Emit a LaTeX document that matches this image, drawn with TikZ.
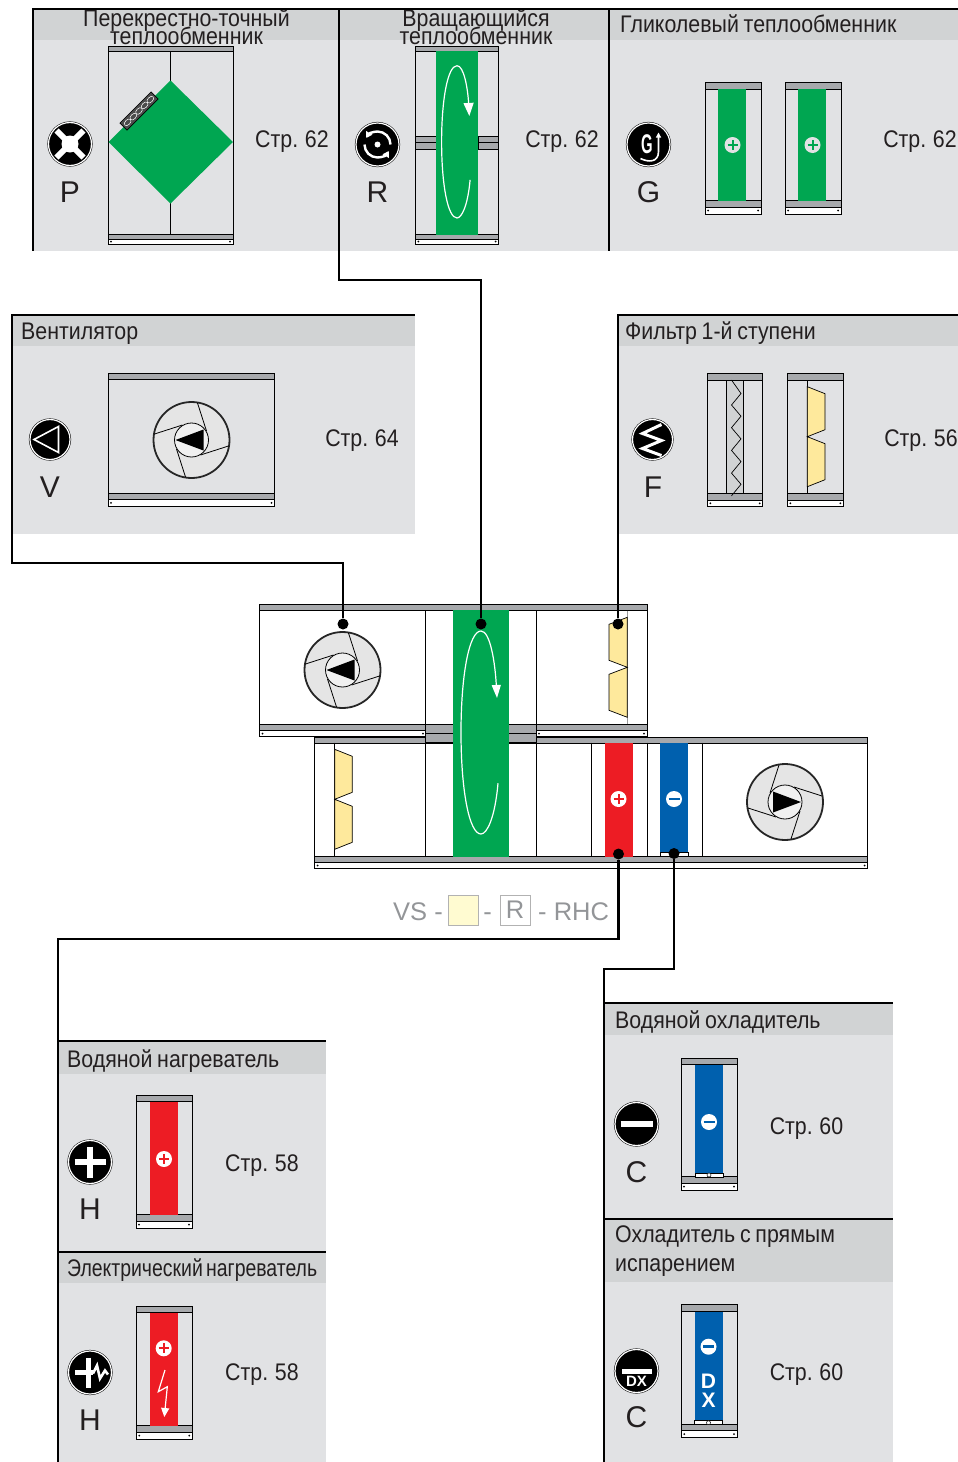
\documentclass[tikz,border=0pt]{standalone}
\usepackage{fontspec}
\setmainfont[FakeStretch=0.89,WordSpace=0.8]{Liberation Sans}
\newfontfamily\wideface{Liberation Sans}
\newfontfamily\tightface[FakeStretch=0.81,WordSpace=0.6]{Liberation Sans}
\newfontfamily\slimface[FakeStretch=0.55]{Liberation Sans}
\usetikzlibrary{arrows.meta}
\definecolor{panelgray}{HTML}{E1E2E4}
\definecolor{headgray}{HTML}{D1D3D4}
\definecolor{bargray}{HTML}{A7A9AC}
\definecolor{inkblack}{HTML}{231F20}
\definecolor{legendgray}{HTML}{939598}
\definecolor{wheelgreen}{HTML}{00A651}
\definecolor{heatred}{HTML}{ED1C24}
\definecolor{coolblue}{HTML}{0060AE}
\definecolor{filteryellow}{HTML}{FEE99C}
\definecolor{legendyellow}{HTML}{FFFBD1}
\newcommand{\titlefont}[1]{\fontsize{24}{#1}\selectfont\lineskiplimit -30pt\relax}
\newcommand{\casing}[6]{%
  \filldraw[fill=#6,draw=black,line width=.8] (#1,#2) rectangle (#3,#4);
  \filldraw[fill=bargray,draw=black,line width=.8] (#1,#2) rectangle (#3,{#2+#5});
  \filldraw[fill=bargray,draw=black,line width=.8] (#1,{#4-2*#5}) rectangle (#3,{#4-#5});
  \filldraw[fill=white,draw=black,line width=.8] (#1,{#4-#5}) rectangle (#3,#4);
  \fill[black] ({#1+3},{#4-#5/2}) circle[radius=1pt] ({#3-3},{#4-#5/2}) circle[radius=1pt];}
\newcommand{\plusmark}[4]{%
  \fill[#3] (#1,#2) circle[radius=8pt];
  \draw[#4,line width=2] ({#1-5},#2) -- ({#1+5},#2) (#1,{#2-5}) -- (#1,{#2+5});}
\newcommand{\minusmark}[4]{%
  \fill[#3] (#1,#2) circle[radius=8pt];
  \draw[#4,line width=2.6] ({#1-5.5},#2) -- ({#1+5.5},#2);}
\newcommand{\fanwheel}[3]{%
  \begin{scope}[shift={(#1,#2)},xscale=#3]
    \filldraw[fill=black!10,draw=black!85,line width=1.8] (0,0) circle[radius=38pt];
    \filldraw[fill=black!6,draw=black,line width=.8] (0,0) circle[radius=17pt];
    \draw[black,line width=.8] (-37,-6) -- (-9,-15) (6,-37) -- (15,-9) (37,6) -- (9,15) (-6,37) -- (-15,9);
    \fill[black] (-16,0) -- (12,-10.5) -- (12,10.5) -- cycle;
  \end{scope}}
\newcommand{\filterbit}[3]{%
  \filldraw[fill=filteryellow,draw=black,line width=.7,xscale=1] (#1,#3) -- (#2,{#3+7}) -- (#2,{#3+43}) -- (#1,{#3+50}) -- (#2,{#3+57}) -- (#2,{#3+93}) -- (#1,{#3+100}) -- cycle;}
\newcommand{\wheelcurl}[7]{%
  \begin{scope}[shift={(#1,#2)},xscale=#3,yscale=#4]
    \draw[white,line width=1.2,-{Triangle[width=#5,length=#6]}] (17,75) .. controls (14,92) and (6,100) .. (0,100) .. controls (-12,100) and (-20,78) .. (-20,50) .. controls (-20,22) and (-12,0) .. (0,0) .. controls (9,0) and (14,15) .. (#7,33);
  \end{scope}}
\begin{document}
\begin{tikzpicture}[x=1pt,y=-1pt,
  pnl/.style={fill=panelgray,inner sep=0,outer sep=0,anchor=north west},
  hdr/.style={fill=headgray,inner sep=0,outer sep=0,anchor=north west},
  edge/.style={draw=black,line width=2.3},
  link/.style={draw=black,line width=2.3},
  dot/.style={circle,fill=black,inner sep=0,minimum size=11},
  badge/.style={circle,fill=black,draw=black,double=white,double distance=1.2,line width=.5,inner sep=0,minimum size=43},
  smallbadge/.style={badge,minimum size=40},
  title/.style={font=\titlefont{18},text=inkblack,inner sep=0,anchor=base west,align=left},
  ctitle/.style={font=\titlefont{18},text=inkblack,inner sep=0,align=center},
  pageref/.style={font=\fontsize{24}{24}\selectfont,text=inkblack,inner sep=0,anchor=base},
  letter/.style={font=\wideface\fontsize{30}{30}\selectfont,text=inkblack,inner sep=0},
  legend/.style={font=\wideface\fontsize{25.5}{26}\selectfont,text=legendgray,inner sep=0},
  legbox/.style={draw=black!30,line width=1,inner sep=0,minimum size=30}]
  \useasboundingbox (0,0) rectangle (958,1462);
  \node[pnl,minimum width=306,minimum height=241.5] (pnP) at (33,9){};
  \node[pnl,minimum width=270,minimum height=241.5] (pnR) at (339,9){};
  \node[pnl,minimum width=349,minimum height=241.5] (pnG) at (609,9){};
  \node[hdr,minimum width=306,minimum height=31] (hdP) at (33,9){};
  \node[hdr,minimum width=270,minimum height=31] (hdR) at (339,9){};
  \node[hdr,minimum width=349,minimum height=31] (hdG) at (609,9){};
  \node[pnl,minimum width=403,minimum height=218.5] (pnV) at (12,315){};
  \node[hdr,minimum width=403,minimum height=31] (hdV) at (12,315){};
  \node[pnl,minimum width=340,minimum height=218.5] (pnF) at (618,315){};
  \node[hdr,minimum width=340,minimum height=31] (hdF) at (618,315){};
  \node[pnl,minimum width=268,minimum height=211] (pnHa) at (58,1041){};
  \node[hdr,minimum width=268,minimum height=33] (hdHa) at (58,1041){};
  \node[pnl,minimum width=268,minimum height=210] (pnHb) at (58,1252){};
  \node[hdr,minimum width=268,minimum height=31] (hdHb) at (58,1252){};
  \node[pnl,minimum width=289,minimum height=216] (pnCa) at (604,1003){};
  \node[hdr,minimum width=289,minimum height=32] (hdCa) at (604,1003){};
  \node[pnl,minimum width=289,minimum height=243] (pnCb) at (604,1219){};
  \node[hdr,minimum width=289,minimum height=63] (hdCb) at (604,1219){};
  \node[ctitle] (ttP) at (186.5,27){Перекрестно-точный\\теплообменник};
  \node[ctitle] (ttR) at (476,27){Вращающийся\\теплообменник};
  \node[title] (ttG) at (620,32){Гликолевый теплообменник};
  \node[title] (ttV) at (21,339){Вентилятор};
  \node[title] (ttF) at (625,339){Фильтр 1-й ступени};
  \node[title] (ttHa) at (67,1067){Водяной нагреватель};
  \node[title,font=\tightface\fontsize{24}{18}\selectfont] (ttHb) at (67,1276){Электрический нагреватель};
  \node[title] (ttCa) at (615,1028){Водяной охладитель};
  \node[title,anchor=west,font=\titlefont{29}] (ttCb) at (615,1251){Охладитель с прямым\\испарением};
  \node[pageref] (pgP) at (292,147){Стр. 62};
  \node[pageref] (pgR) at (562,147){Стр. 62};
  \node[pageref] (pgG) at (920,147){Стр. 62};
  \node[pageref] (pgV) at (362,446){Стр. 64};
  \node[pageref] (pgF) at (921,446){Стр. 56};
  \node[pageref] (pgHa) at (262,1171){Стр. 58};
  \node[pageref] (pgHb) at (262,1380){Стр. 58};
  \node[pageref] (pgCa) at (806.5,1134){Стр. 60};
  \node[pageref] (pgCb) at (806.5,1380){Стр. 60};
  \node[letter] (ltP) at (70,192){P};
  \node[letter] (ltR) at (377.5,192){R};
  \node[letter] (ltG) at (648.5,192){G};
  \node[letter] (ltV) at (50,487){V};
  \node[letter] (ltF) at (653,487){F};
  \node[letter] (ltHa) at (90,1209){H};
  \node[letter] (ltHb) at (90,1420){H};
  \node[letter] (ltCa) at (636.5,1172){C};
  \node[letter] (ltCb) at (636.5,1417){C};
  \node[badge] (bgP) at (70,144){};
  \node[badge] (bgR) at (377.5,144.5){};
  \node[badge] (bgG) at (648.5,144.5){};
  \node[smallbadge] (bgV) at (50,439.5){};
  \node[smallbadge] (bgF) at (652.5,439.5){};
  \node[badge] (bgHa) at (90,1162){};
  \node[badge] (bgHb) at (90,1372.5){};
  \node[badge] (bgCa) at (636.5,1124){};
  \node[badge] (bgCb) at (636.5,1371){};
  \begin{scope}[shift={(bgP.center)},white]
    \draw[line width=6] (-13.5,-13.5) -- (13.5,13.5) (-13.5,13.5) -- (13.5,-13.5);
    \fill (0,0) circle[radius=8.5pt];
  \end{scope}
  \begin{scope}[shift={(bgR.center)},white]
    \fill (0,0) circle[radius=3pt];
    \draw[line width=2.4,-{Triangle[width=7,length=6]}] (0:13pt) arc[start angle=0,end angle=150,radius=13pt];
    \draw[line width=2.4,-{Triangle[width=7,length=6]}] (180:13pt) arc[start angle=180,end angle=330,radius=13pt];
  \end{scope}
  \node[text=white,inner sep=0,font=\slimface\bfseries\fontsize{27}{27}\selectfont] (icG) at (647,144){G};
  \begin{scope}[shift={(bgG.center)},white]
    \draw[line width=1.6,-{Triangle[width=5,length=5]}] (-8,14) .. controls (0,18) and (10,18) .. (10,7) -- (10,-12);
  \end{scope}
  \begin{scope}[shift={(bgV.center)},white]
    \draw[line width=1.6,line join=miter] (-16,0) -- (8.5,-13) -- (8.5,13) -- cycle;
  \end{scope}
  \begin{scope}[shift={(bgF.center)},white]
    \draw[line width=3] (9,-15) -- (-10,-6) -- (9,1) -- (-10,9) -- (9,16);
  \end{scope}
  \begin{scope}[shift={(bgHa.center)},white]
    \draw[line width=6.5] (-15.5,0) -- (15.5,0) (0,-15.5) -- (0,15.5);
  \end{scope}
  \begin{scope}[shift={(bgHb.center)},white]
    \draw[line width=5] (-15,0) -- (3,0) (-2,-15) -- (-2,15);
    \draw[line width=2.6] (3,1) -- (7,-7) -- (10,6) -- (15,-2) -- (18,2);
  \end{scope}
  \begin{scope}[shift={(bgCa.center)},white]
    \draw[line width=6.5] (-16,0) -- (16,0);
  \end{scope}
  \begin{scope}[shift={(bgCb.center)},white]
    \fill (-15,-2.5) rectangle (15,2.5);
  \end{scope}
  \node[text=white,inner sep=0,font=\wideface\bfseries\fontsize{15}{15}\selectfont] (icDX) at (636.5,1381.5){DX};
  \casing{108}{46}{233}{244}{5}{panelgray}
  \draw[black,line width=.8] (170.5,51) -- (170.5,234);
  \fill[wheelgreen] (170.5,80.5) -- (233,142) -- (170.5,203.5) -- (108.5,142) -- cycle;
  \begin{scope}[shift={(139,111)},rotate=45]
    \filldraw[fill=black!70,draw=black,line width=.6] (-22,-5) rectangle (22,5);
    \foreach \k in {-16,-8,0,8,16}
      \draw[white,line width=.5] (\k,0) circle[x radius=4pt,y radius=2.5pt];
  \end{scope}
  \casing{415.3}{46}{498.7}{244}{5}{panelgray}
  \filldraw[fill=bargray,draw=black,line width=.6] (415.3,136) rectangle (436,142) (415.3,142) rectangle (436,149);
  \filldraw[fill=bargray,draw=black,line width=.6] (478,136) rectangle (498.7,142) (478,142) rectangle (498.7,149);
  \fill[wheelgreen] (436,51) rectangle (478,234.5);
  \wheelcurl{457}{65.7}{.77}{1.523}{10}{13}{16}
  \casing{705}{82}{761}{214}{7}{panelgray}
  \fill[wheelgreen] (718.3,88.5) rectangle (746.3,201);
  \plusmark{732.5}{145}{panelgray}{wheelgreen}
  \casing{785}{82}{841}{214}{7}{panelgray}
  \fill[wheelgreen] (798.3,88.5) rectangle (826.3,201);
  \plusmark{812.5}{145}{panelgray}{wheelgreen}
  \casing{108}{373}{274.5}{506}{6.5}{panelgray}
  \fanwheel{191.5}{440}{1}
  \casing{707.3}{373.3}{762.7}{506.7}{6.8}{panelgray}
  \filldraw[fill=headgray,draw=black,line width=.8] (726.7,380) rectangle (743.3,493);
  \draw[black,line width=.7] (731.5,380) \foreach \k in {0,...,4} {-- (741,{393.5+22.7*\k}) -- (731.5,{405+22.7*\k})};
  \casing{787.3}{373.3}{843.3}{506.7}{6.8}{panelgray}
  \draw[black,line width=.8] (807.3,380) -- (807.3,493);
  \filterbit{807.3}{825}{386.7}
  \casing{136}{1095}{192}{1228}{6.7}{panelgray}
  \fill[heatred] (150,1102) rectangle (178,1215);
  \plusmark{164}{1159}{white}{heatred}
  \casing{136.3}{1306}{192.3}{1439}{6.7}{panelgray}
  \fill[heatred] (150,1312.5) rectangle (177.7,1426);
  \plusmark{163.7}{1348.3}{white}{heatred}
  \draw[white,line width=1.2,-{Triangle[width=8,length=9]}] (165,1370) -- (158.3,1391.7) -- (167.3,1386.7) -- (164.3,1417);
  \casing{681}{1058}{737}{1190}{6.7}{panelgray}
  \fill[coolblue] (695,1064.5) rectangle (723,1177);
  \minusmark{709}{1122}{white}{coolblue}
  \filldraw[fill=white,draw=black,line width=.7] (695,1173) rectangle (723,1177);
  \draw[black,fill=white,line width=.5] (709,1175) circle[radius=2pt];
  \casing{681.3}{1304.7}{737}{1437.3}{6.5}{panelgray}
  \fill[coolblue] (694.7,1311.5) rectangle (722.7,1424.5);
  \minusmark{708.5}{1346.7}{white}{coolblue}
  \node[text=white,inner sep=0,font=\wideface\bfseries\fontsize{21}{21}\selectfont] (txD) at (708.5,1381){D};
  \node[text=white,inner sep=0,font=\wideface\bfseries\fontsize{21}{21}\selectfont] (txX) at (708.5,1400){X};
  \filldraw[fill=white,draw=black,line width=.7] (694.7,1420.7) rectangle (722.7,1424.5);
  \draw[black,fill=white,line width=.5] (708.5,1422.7) circle[radius=2pt];
  \casing{314.7}{737}{867.7}{868.5}{6}{white}
  \casing{259.5}{604.5}{647}{736.5}{6}{white}
  \fill[black] (423,733.5) circle[radius=1pt] (539,733.5) circle[radius=1pt];
  \filldraw[fill=bargray,draw=black,line width=.7] (425.5,724.5) rectangle (536,733.5);
  \filldraw[fill=bargray,draw=black,line width=.7] (425.5,733.5) rectangle (536,742.7);
  \draw[black,line width=.9] (425.5,610.5) -- (425.5,724.5) (536,610.5) -- (536,724.5);
  \draw[black,line width=.9] (425.5,742.7) -- (425.5,856.5) (536,742.7) -- (536,856.5);
  \draw[black,line width=.8] (591.7,742.7) -- (591.7,856.5) (647,742.7) -- (647,856.5) (702,742.7) -- (702,856.5);
  \draw[black!40,line width=.8] (627.3,610.5) -- (627.3,724);
  \draw[black,line width=.8] (334.7,742.7) -- (334.7,856.5);
  \fill[wheelgreen] (453.3,610) rectangle (509,857);
  \wheelcurl{481}{631}{1}{2.03}{9}{13}{16}
  \filterbit{627.3}{609}{617.3}
  \filterbit{334.7}{352.3}{749.3}
  \fanwheel{342.5}{670}{1}
  \fanwheel{785}{802}{-1}
  \fill[heatred] (605,743) rectangle (632.7,856.5);
  \plusmark{618.5}{799}{white}{heatred}
  \fill[coolblue] (660,743) rectangle (688,856.5);
  \minusmark{674}{799}{white}{coolblue}
  \filldraw[fill=white,draw=black,line width=.7] (660,852) rectangle (688,856.5);
  \node[legend,anchor=base east] (lgVS) at (443,920){VS -};
  \node[legbox,fill=legendyellow] (lgYe) at (463.5,910){};
  \node[legend,anchor=base] (lgDa) at (487.5,920){-};
  \node[legbox,legend,draw=black!30,minimum size=30] (lgRe) at (515,910){\raisebox{-2pt}{R}};
  \node[legend,anchor=base west] (lgRH) at (538,920){- RHC};
  \node[dot] (dotV) at (343,624){};
  \node[dot] (dotR) at (481,624){};
  \node[dot] (dotF) at (618,624){};
  \node[dot] (dotH) at (618.5,854){};
  \node[dot] (dotC) at (674,853.5){};
  \coordinate (crR) at (339,280);
  \coordinate (crV) at (12,563);
  \coordinate (crH) at (58,939);
  \coordinate (crC) at (604,969);
  \draw[edge] (pnP.south west) |- (pnG.north east);
  \draw[edge] (pnG.south west) -- (pnG.north west);
  \draw[link] (pnR.north west) -- (crR) -| (dotR);
  \draw[link] (dotV) |- (crV) -- (pnV.north west) -- (pnV.north east);
  \draw[link] (dotF) -- (pnF.north west) -- (pnF.north east);
  \draw[link] (dotH) |- (crH) -- (pnHb.south west);
  \draw[edge] (pnHa.north west) -- (pnHa.north east);
  \draw[edge] (pnHb.north west) -- (pnHb.north east);
  \draw[link] (dotC) |- (crC) -- (pnCb.south west);
  \draw[edge] (pnCa.north west) -- (pnCa.north east);
  \draw[edge] (pnCb.north west) -- (pnCb.north east);
\end{tikzpicture}
\end{document}
